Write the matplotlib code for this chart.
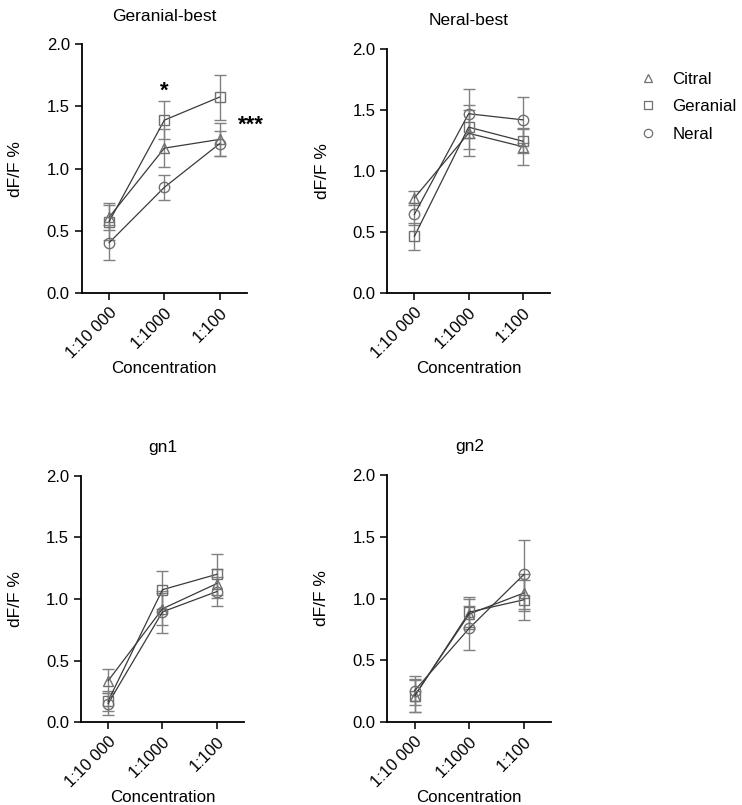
import matplotlib.pyplot as plt
from matplotlib.lines import Line2D

plt.rcParams['font.family'] = ['Liberation Sans', 'DejaVu Sans']

conc = ["1:10 000", "1:1000", "1:100"]
compounds = ["Citral", "Geranial", "Neral"]
markers = {"Citral": "^", "Geranial": "s", "Neral": "o"}

titles = ["Geranial-best", "Neral-best", "gn1", "gn2"]

# mean dF/F % per panel, per odour
means = {
    "Geranial-best": {"Citral": [0.61, 1.165, 1.235],
                      "Geranial": [0.575, 1.39, 1.575],
                      "Neral": [0.405, 0.85, 1.20]},
    "Neral-best": {"Citral": [0.78, 1.31, 1.20],
                   "Geranial": [0.465, 1.36, 1.245],
                   "Neral": [0.645, 1.47, 1.42]},
    "gn1": {"Citral": [0.335, 0.92, 1.125],
            "Geranial": [0.17, 1.075, 1.20],
            "Neral": [0.15, 0.895, 1.06]},
    "gn2": {"Citral": [0.215, 0.875, 1.045],
            "Geranial": [0.21, 0.89, 0.99],
            "Neral": [0.255, 0.76, 1.195]},
}
# SEM
errs = {
    "Geranial-best": {"Citral": [0.10, 0.15, 0.13],
                      "Geranial": [0.15, 0.15, 0.18],
                      "Neral": [0.14, 0.10, 0.10]},
    "Neral-best": {"Citral": [0.06, 0.19, 0.15],
                   "Geranial": [0.11, 0.18, 0.10],
                   "Neral": [0.09, 0.20, 0.19]},
    "gn1": {"Citral": [0.10, 0.13, 0.12],
            "Geranial": [0.08, 0.155, 0.165],
            "Neral": [0.09, 0.17, 0.12]},
    "gn2": {"Citral": [0.13, 0.12, 0.15],
            "Geranial": [0.13, 0.12, 0.16],
            "Neral": [0.12, 0.18, 0.28]},
}

positions = [[0.110, 0.636, 0.223, 0.309],
             [0.522, 0.636, 0.219, 0.303],
             [0.109, 0.103, 0.220, 0.306],
             [0.522, 0.103, 0.221, 0.307]]

fig = plt.figure(figsize=(7.42, 8.05), dpi=100)
x = list(range(len(conc)))

for title, pos in zip(titles, positions):
    ax = fig.add_axes(pos)
    for c in compounds:
        ax.errorbar(x, means[title][c], yerr=errs[title][c], fmt='none',
                    ecolor='#808080', elinewidth=1.0, capsize=4, capthick=1.0, zorder=2)
        ax.plot(x, means[title][c], color='#3a3a3a', lw=0.9, marker=markers[c],
                markersize=7.5, markerfacecolor='none', markeredgecolor='#707070',
                markeredgewidth=1.0, zorder=3)
    ax.set_xlim(-0.5, 2.5)
    ax.set_ylim(0, 2.0)
    ax.set_yticks([0, 0.5, 1.0, 1.5, 2.0])
    ax.set_yticklabels(["0.0", "0.5", "1.0", "1.5", "2.0"])
    ax.set_xticks(x)
    ax.set_xticklabels(conc, rotation=45, ha='right', rotation_mode='anchor')
    ax.spines['top'].set_visible(False)
    ax.spines['right'].set_visible(False)
    ax.spines['left'].set_linewidth(1.3)
    ax.spines['bottom'].set_linewidth(1.3)
    ax.tick_params(labelsize=12, width=1.3, length=5, color='#222222')
    ax.set_ylabel("dF/F %", fontsize=12.5)
    ax.yaxis.set_label_coords(-0.355, 0.5)
    ax.set_xlabel("Concentration", fontsize=12.2, labelpad=0)
    ax.set_title(title, fontsize=12.5, pad=17)
    if title == "Geranial-best":
        ax.text(1, 1.62, "*", ha='center', va='center', fontsize=16, fontweight='bold')
        ax.text(2.34, 1.35, "***", ha='left', va='center', fontsize=16,
                fontweight='bold', clip_on=False)

handles = [Line2D([], [], ls='none', marker=markers[c], markersize=6,
                  markerfacecolor='none', markeredgecolor='#707070', markeredgewidth=0.9)
           for c in compounds]
fig.legend(handles, compounds, loc='upper left', bbox_to_anchor=(0.842, 0.93),
           frameon=False, fontsize=12.2, handletextpad=0.9, labelspacing=0.75,
           handlelength=1.0)

fig.savefig("out.png", dpi=100)
